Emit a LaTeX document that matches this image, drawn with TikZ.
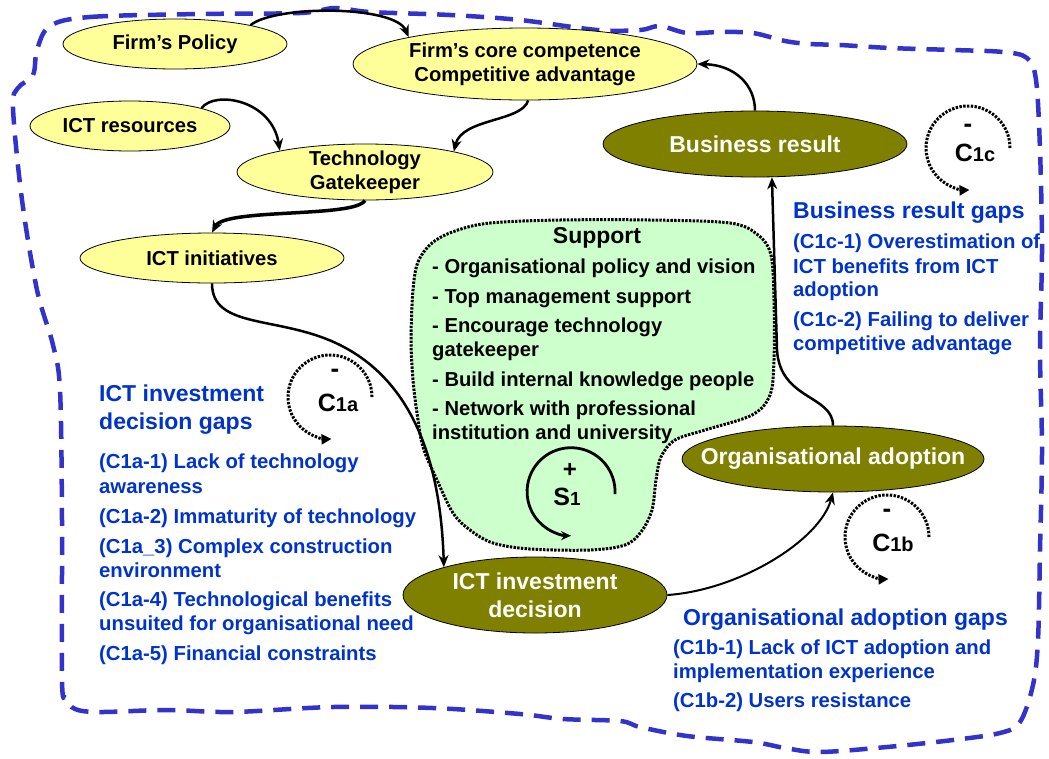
\documentclass[tikz,border=0pt]{standalone}
\usepackage{fontspec}
\setmainfont{Liberation Sans}
\usetikzlibrary{arrows.meta,shapes.geometric}
\definecolor{bluegap}{RGB}{0,51,204}
\definecolor{borderblue}{RGB}{51,51,204}
\definecolor{yfill}{RGB}{255,255,153}
\definecolor{olivefill}{RGB}{128,128,0}
\definecolor{gfill}{RGB}{204,255,204}
\begin{document}
\begin{tikzpicture}[x=1pt,y=-1pt,
  yel/.style={ellipse,draw=black,line width=0.8pt,fill=yfill,inner sep=0pt},
  oli/.style={ellipse,draw=black,line width=0.8pt,fill=olivefill,inner sep=0pt},
  ytxt/.style={font=\bfseries\fontsize{20.2}{24}\selectfont,align=center,inner sep=0pt},
  otxt/.style={font=\bfseries\fontsize{23}{28}\selectfont,align=center,inner sep=0pt,text=white},
  arr/.style={line width=2.5pt,-{Stealth[length=12pt,width=10pt]}},
  gap/.style={text=bluegap,font=\bfseries\fontsize{20.3}{24}\selectfont,anchor=base west,inner sep=0pt},
  gaph/.style={text=bluegap,font=\bfseries\fontsize{23}{28}\selectfont,anchor=base west,inner sep=0pt},
  suptxt/.style={font=\bfseries\fontsize{20.2}{24}\selectfont,anchor=base west,inner sep=0pt},
  loopd/.style={line width=3pt,dash pattern=on 2.4pt off 1.4pt,-{Triangle[length=10pt,width=10pt]}},
  looplab/.style={font=\bfseries,inner sep=0pt},
]
\useasboundingbox (0,0) rectangle (1049,758);

% outer dashed border
\draw[borderblue,line width=4.5pt,dash pattern=on 18pt off 11pt]
  plot[smooth cycle,tension=0.55] coordinates {
  (50,26) (90,17) (200,14) (300,13) (335,8) (370,12) (450,15) (520,20)
  (597,30) (640,30) (660,26) (687,33) (720,32) (753,33) (785,41) (810,44)
  (840,45) (890,48) (953,50) (1003,52) (1027,58) (1036,80) (1040,150)
  (1042,250) (1040,350) (1042,450) (1040,550) (1038,640) (1033,685)
  (1020,722) (1000,733) (953,740) (887,747) (820,752) (785,748) (753,742)
  (687,736) (640,727) (620,721) (563,719) (520,714) (433,708) (333,707)
  (233,712) (167,710) (100,712) (75,709) (66,698) (62,680) (62,520)
  (60,390) (53,345) (37,290) (22,200) (13,108) (18,88) (33,75) (37,50)};

% support blob
\draw[fill=gfill,line width=3pt,dash pattern=on 2.4pt off 1.3pt]
  plot[smooth cycle,tension=0.55] coordinates {
  (413,290) (418,262) (432,243) (455,231) (490,223) (560,220) (650,220)
  (730,223) (758,235) (771,255) (774,300) (774,360) (770,395) (752,415)
  (705,430) (675,440) (661,457) (656,480) (652,510) (641,532) (625,545)
  (590,550) (530,549) (493,543) (470,530) (453,513) (437,480) (423,447)
  (417,413) (413,380) (411,340)};

% ellipses
\node[yel,minimum width=224pt,minimum height=50pt] (fp) at (175,44) {};
\node[yel,minimum width=344pt,minimum height=72pt] (core) at (525,64) {};
\node[yel,minimum width=200pt,minimum height=50pt] (ir) at (130,126) {};
\node[yel,minimum width=256pt,minimum height=56pt] (gk) at (365,172) {};
\node[yel,minimum width=264pt,minimum height=50pt] (ii) at (212,258) {};
\node[oli,minimum width=304pt,minimum height=66pt] (br) at (755,144) {};
\node[oli,minimum width=302pt,minimum height=66pt] (oa) at (833,459) {};
\node[oli,minimum width=264pt,minimum height=76pt] (iid) at (535,595) {};

\node[ytxt] (fpt) at (fp) {Firm’s Policy};
\node[ytxt] (coret) at (core) {Firm’s core competence\\Competitive advantage};
\node[ytxt] (irt) at (ir) {ICT resources};
\node[ytxt] (gkt) at (gk) {Technology\\Gatekeeper};
\node[ytxt] (iit) at (ii) {ICT initiatives};
\node[otxt] (brt) at (br) {Business result};
\node[otxt] (oat) at (oa) {Organisational adoption};
\node[otxt] (iidt) at (iid) {ICT investment\\decision};

% connectors
\draw[arr] (fp.14) .. controls (275,5) and (395,5) .. (core.167);
\draw[arr] (ir.14) .. controls (215,90) and (272,100) .. (gk.166);
\draw[arr] (core.275) .. controls (522,122) and (462,118) .. (gk.13);
\draw[arr,line width=3.5pt] (gk.south) .. controls (355,218) and (225,208) .. (ii.north);
\draw[arr] (ii.south) .. controls (212,330) and (280,315) .. (340,345)
  .. controls (400,375) and (440,440) .. (iid.163);
\draw[arr,line width=2pt] (iid.east) .. controls (740,590) and (820,540) .. (oa.south);
\draw[arr] (oa.north) .. controls (833,395) and (780,400) .. (777,350) -- (br.297);
\draw[arr] (br.north) .. controls (755,85) and (735,65) .. (core.east);

% loops
\draw[loopd] (372,397) arc[start angle=0,end angle=272,radius=42pt];
\node[looplab,font=\bfseries\fontsize{26}{26}\selectfont] (c1am) at (335,373) {-};
\node[looplab] (c1a) at (338,403) {\fontsize{25}{25}\selectfont C\fontsize{20}{20}\selectfont 1a};

\draw[loopd] (1010,148) arc[start angle=0,end angle=272,radius=42pt];
\node[looplab,font=\bfseries\fontsize{26}{26}\selectfont] (c1cm) at (968,128) {-};
\node[looplab] (c1c) at (975,153) {\fontsize{25}{25}\selectfont C\fontsize{20}{20}\selectfont 1c};

\draw[loopd] (929,537) arc[start angle=0,end angle=272,radius=42pt];
\node[looplab,font=\bfseries\fontsize{26}{26}\selectfont] (c1bm) at (887,513) {-};
\node[looplab] (c1b) at (893,543) {\fontsize{25}{25}\selectfont C\fontsize{20}{20}\selectfont 1b};

\draw[line width=2.8pt,-{Stealth[length=10pt,width=9pt]}] (615,494) arc[start angle=-3,end angle=270,radius=44pt];
\node[looplab,font=\bfseries\fontsize{24}{24}\selectfont] (s1p) at (570,470) {+};
\node[looplab] (s1) at (567,497) {\fontsize{25}{25}\selectfont S\fontsize{19}{19}\selectfont 1};

% support text
\node[suptxt,anchor=base] (sup0) at (597,243) {\fontsize{23}{28}\selectfont Support};
\node[suptxt] (sup1) at (432,273) {- Organisational policy and vision};
\node[suptxt] (sup2) at (432,303) {- Top management support};
\node[suptxt] (sup3) at (432,332) {- Encourage technology};
\node[suptxt] (sup3b) at (432,356) {gatekeeper};
\node[suptxt] (sup4) at (432,386) {- Build internal knowledge people};
\node[suptxt] (sup5) at (432,415) {- Network with professional};
\node[suptxt] (sup5b) at (432,439) {institution and university};

% left gaps
\node[gaph] (la0) at (99,401) {ICT investment};
\node[gaph] (la0b) at (99,429) {decision gaps};
\node[gap] (la1) at (99,468) {(C1a-1) Lack of technology};
\node[gap] (la1b) at (99,493) {awareness};
\node[gap] (la2) at (99,523) {(C1a-2) Immaturity of technology};
\node[gap] (la3) at (99,553) {(C1a\_3) Complex construction};
\node[gap] (la3b) at (99,577) {environment};
\node[gap] (la4) at (99,606) {(C1a-4) Technological benefits};
\node[gap] (la4b) at (99,630) {unsuited for organisational need};
\node[gap] (la5) at (99,660) {(C1a-5) Financial constraints};

% right top gaps
\node[gaph] (rc0) at (793,218) {Business result gaps};
\node[gap] (rc1) at (793,248) {(C1c-1) Overestimation of};
\node[gap] (rc1b) at (793,273) {ICT benefits from ICT};
\node[gap] (rc1c) at (793,296) {adoption};
\node[gap] (rc2) at (793,326) {(C1c-2) Failing to deliver};
\node[gap] (rc2b) at (793,350) {competitive advantage};

% bottom right gaps
\node[gaph] (rb0) at (683,625) {Organisational adoption gaps};
\node[gap] (rb1) at (673,654) {(C1b-1) Lack of ICT adoption and};
\node[gap] (rb1b) at (673,678) {implementation experience};
\node[gap] (rb2) at (673,707) {(C1b-2) Users resistance};
\end{tikzpicture}
\end{document}
